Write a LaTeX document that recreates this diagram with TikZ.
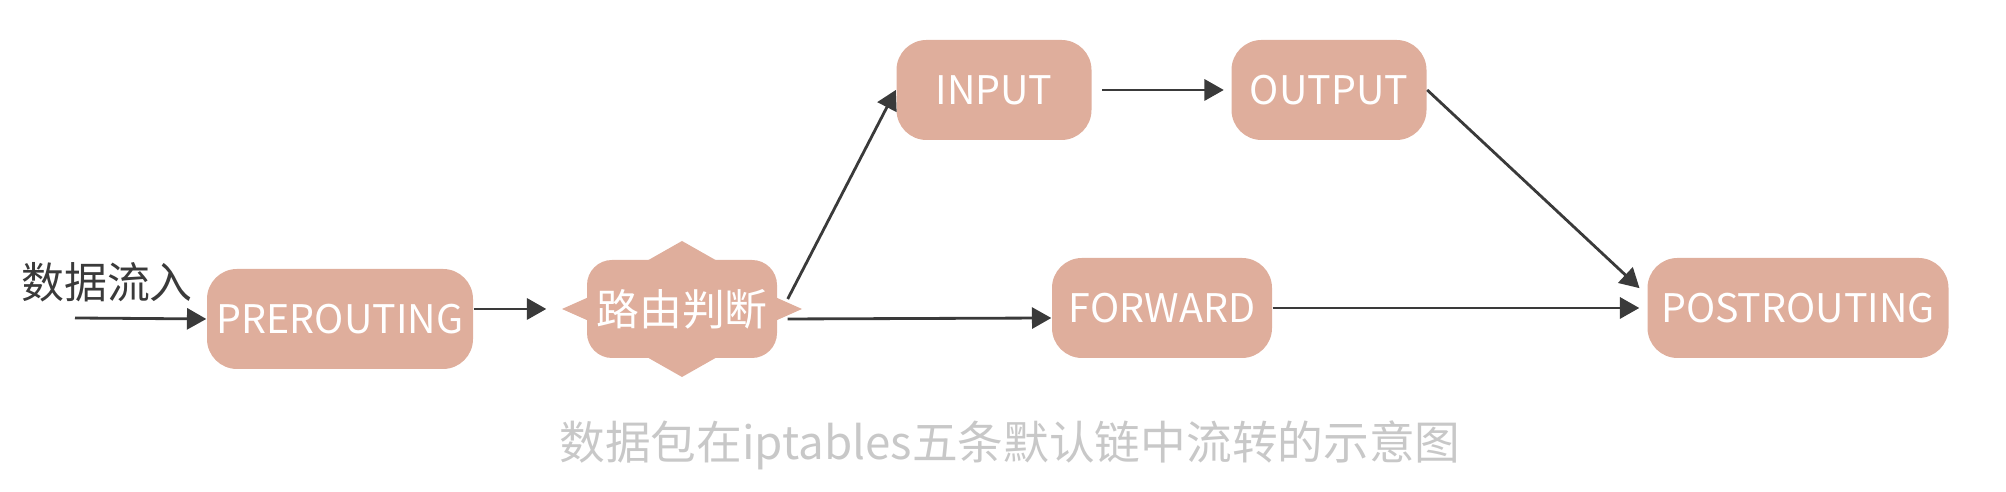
\documentclass[tikz,border=0pt]{standalone}
\usepackage{fontspec}
\setmainfont{Noto Sans CJK SC}
\usetikzlibrary{arrows.meta}

\definecolor{hookfill}{HTML}{DFAE9C}
\definecolor{flowgray}{HTML}{3A3A3A}
\definecolor{capgray}{HTML}{C8C8C8}

\begin{document}
\begin{tikzpicture}[
    every node/.style={inner sep=0pt, font=\fontsize{12.2pt}{14pt}\selectfont}
]

\tikzset{hook/.style={rectangle, rounded corners=0.3cm, fill=hookfill, text=white, minimum width=#1, minimum height=1cm, font=\fontsize{11.2pt}{13pt}\selectfont}}
\tikzset{flow/.style={draw=flowgray, line width=0.8pt, -{Triangle[length=5.5pt, width=6pt]}}}

\useasboundingbox (0,0) rectangle (20.06,4.92);

% ================= entrée =================

\node[text=flowgray] (in) at (1.07,2.10) {数据流入};
\coordinate (start) at (0.75,1.74);

\node[hook=2.66cm] (pre) at (3.40,1.73) {PREROUTING};

% ================= routage =================
% forme en badge : rectangle arrondi + quatre pointes

\begin{scope}[shift={(6.82,1.83)}]
\fill[hookfill, rounded corners=0.25cm] (-0.95,-0.49) rectangle (0.95,0.49);
\fill[hookfill] (-0.93,0.12) -- (-1.20,0) -- (-0.93,-0.12) -- cycle;
\fill[hookfill] (0.93,0.12) -- (1.20,0) -- (0.93,-0.12) -- cycle;
\fill[hookfill] (-0.37,0.47) -- (0,0.68) -- (0.37,0.47) -- cycle;
\fill[hookfill] (-0.37,-0.47) -- (0,-0.68) -- (0.37,-0.47) -- cycle;
\end{scope}

\node[minimum width=2.1cm, minimum height=0.96cm, text=white] (route) at (6.82,1.83) {路由判断};

% ================= chaînes =================

\node[hook=1.95cm] (input)   at (9.94,4.02)  {INPUT};
\node[hook=1.95cm] (output)  at (13.29,4.02) {OUTPUT};
\node[hook=2.20cm] (forward) at (11.62,1.84) {FORWARD};
\node[hook=3.01cm] (post)    at (17.98,1.84) {POSTROUTING};

\draw[flow] (start) -- (pre.west);
\draw[flow] (pre.east |- route.west) -- ([xshift=-3mm]route.west);
\draw[flow] ([yshift=1mm]route.east) -- (input.west);
\draw[flow] ([yshift=-1mm]route.east) -- ([yshift=-1mm]forward.west);
\draw[flow, shorten <=1mm, shorten >=0.7mm] (input) -- (output);
\draw[flow, shorten >=1mm] (output.east) -- ([yshift=1.3mm]post.west);
\draw[flow, shorten >=0.75mm] (forward) -- (post);

% ================= légende =================

\node[text=capgray, font=\fontsize{13pt}{15pt}\selectfont] (cap) at (10.10,0.47) {数据包在iptables五条默认链中流转的示意图};

\end{tikzpicture}
\end{document}
